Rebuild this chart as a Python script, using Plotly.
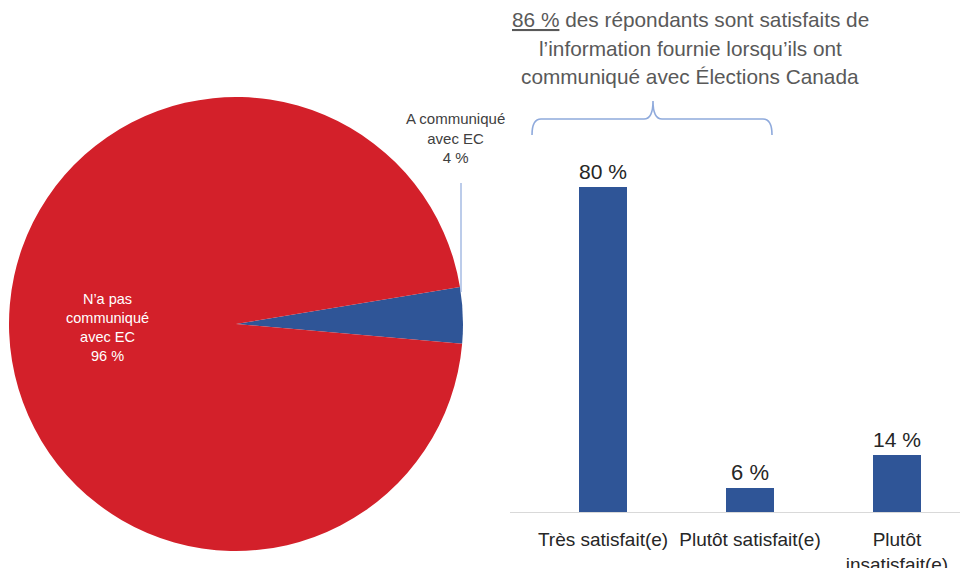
import plotly.graph_objects as go

# ---- data ----
pie_labels = ["A communiqué<br>avec EC", "N’a pas<br>communiqué<br>avec EC"]
pie_values = [4, 96]
pie_colors = ["#2F5597", "#D3202A"]

bar_categories = ["Très satisfait(e)", "Plutôt satisfait(e)", "Plutôt<br>insatisfait(e)"]
bar_values = [80, 6, 14]
bar_color = "#2F5597"

title_lines = [
    "<u>86 %</u> des répondants sont satisfaits de",
    "l’information fournie lorsqu’ils ont",
    "communiqué avec Élections Canada",
]

W, H = 960, 568
FONT = "Liberation Sans, Arial, sans-serif"


def px(x, y):
    return x / W, 1 - y / H


fig = go.Figure()

fig.add_trace(go.Pie(
    labels=pie_labels,
    values=pie_values,
    marker=dict(colors=pie_colors, line=dict(width=0)),
    sort=False,
    direction="clockwise",
    rotation=80.6,
    textinfo="none",
    hoverinfo="label+percent",
    domain=dict(x=[9 / W, 463 / W], y=[1 - 551 / H, 1 - 97 / H]),
    showlegend=False,
))

fig.add_trace(go.Bar(
    x=bar_categories,
    y=bar_values,
    marker=dict(color=bar_color, line=dict(width=0)),
    width=0.33,
    text=[f"{v} %" for v in bar_values],
    textposition="outside",
    textfont=dict(size=22, color="#262626", family=FONT),
    cliponaxis=False,
    showlegend=False,
    xaxis="x", yaxis="y",
))

annotations = []
# title lines
for i, line in enumerate(title_lines):
    xx, yy = px(690, 20 + 28 * i)
    annotations.append(dict(
        x=xx, y=yy, xref="paper", yref="paper", text=line, showarrow=False,
        xanchor="center", yanchor="middle",
        font=dict(size=20.8, color="#595959", family=FONT),
    ))

# pie labels built from data
xx, yy = px(455, 138)
annotations.append(dict(
    x=xx, y=yy, xref="paper", yref="paper",
    text=f"{pie_labels[0]}<br>{pie_values[0]} %", showarrow=False,
    xanchor="center", yanchor="middle",
    font=dict(size=15, color="#404040", family=FONT),
))
xx, yy = px(107, 327)
annotations.append(dict(
    x=xx, y=yy, xref="paper", yref="paper",
    text=f"{pie_labels[1]}<br>{pie_values[1]} %", showarrow=False,
    xanchor="center", yanchor="middle",
    font=dict(size=14.5, color="#FFFFFF", family=FONT),
))


def path_from(points, close=False):
    s = ""
    for cmd, pts in points:
        coords = " ".join(f"{x / W:.5f},{1 - y / H:.5f}" for x, y in pts)
        s += f"{cmd} {coords} "
    if close:
        s += "Z"
    return s


shapes = []
# leader line
x0, y0 = px(461, 183)
x1, y1 = px(461, 292)
shapes.append(dict(type="line", xref="paper", yref="paper", x0=x0, y0=y0, x1=x1, y1=y1,
                   line=dict(color="#8FAADC", width=1.2)))
# brace
brace = path_from([
    ("M", [(532, 135)]),
    ("Q", [(532, 119), (541, 119)]),
    ("L", [(644, 119)]),
    ("Q", [(653, 119), (653, 101)]),
    ("Q", [(653, 119), (662, 119)]),
    ("L", [(763, 119)]),
    ("Q", [(772, 119), (772, 135)]),
])
shapes.append(dict(type="path", xref="paper", yref="paper", path=brace,
                   line=dict(color="#8FAADC", width=1.6)))
# arrow
arrow = path_from([
    ("M", [(472, 303)]),
    ("L", [(505, 303), (505, 294), (523, 312), (505, 331), (505, 323), (472, 323)]),
], close=True)
shapes.append(dict(type="path", xref="paper", yref="paper", path=arrow,
                   fillcolor="#2F5597", line=dict(width=0)))

fig.update_layout(
    width=W, height=H,
    margin=dict(l=0, r=0, t=0, b=0, autoexpand=False),
    paper_bgcolor="white", plot_bgcolor="white",
    annotations=annotations,
    shapes=shapes,
    bargap=0,
    xaxis=dict(
        domain=[510 / W, 1.0],
        range=[-0.633, 2.429],
        showline=True, linecolor="#D9D9D9", linewidth=1,
        showgrid=False, zeroline=False, ticks="",
        tickfont=dict(size=19, color="#262626", family=FONT),
        ticklabelstandoff=10,
        automargin=False,
        fixedrange=True,
    ),
    yaxis=dict(
        domain=[56 / H, 468 / H],
        range=[0, 101.4],
        visible=False,
        automargin=False,
        fixedrange=True,
    ),
)

fig.write_html("out.html", config={"displayModeBar": False},
               post_script="document.body.style.margin='0';")
